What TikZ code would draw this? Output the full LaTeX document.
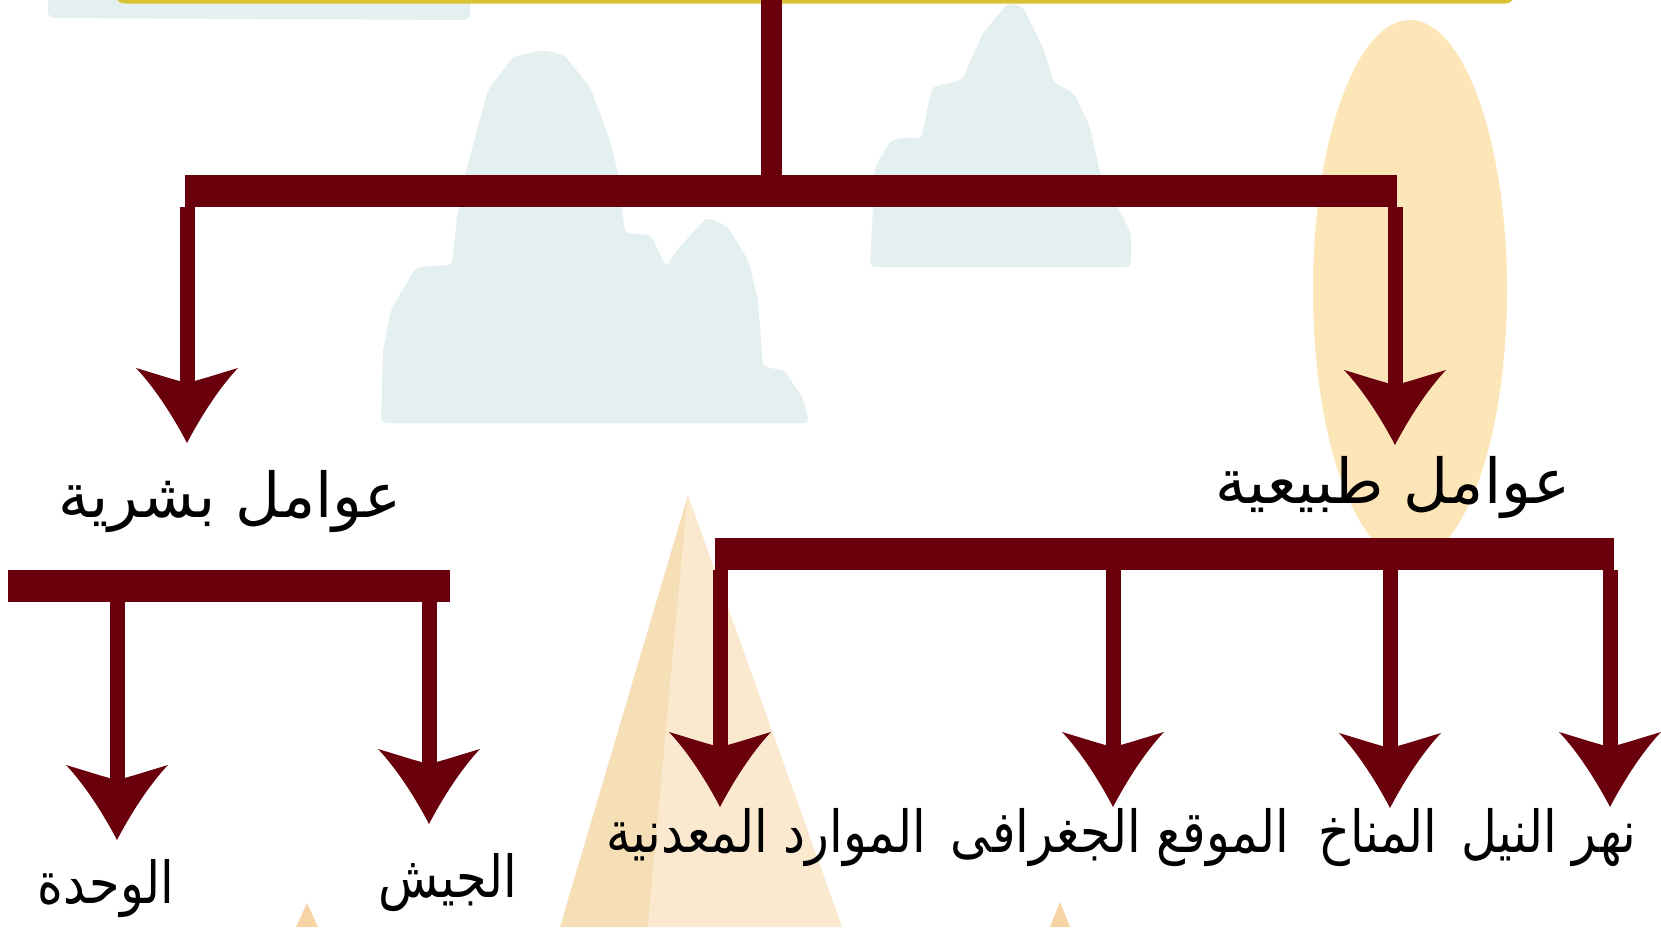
\documentclass[tikz,border=0pt]{standalone}
\usepackage{fontspec}
\newfontfamily\arabicfont[Script=Arabic]{DejaVu Sans}
\newfontfamily\arabicnarrow[Script=Arabic,FakeStretch=0.85]{DejaVu Sans}
\TeXXeTstate=1
\usetikzlibrary{arrows.meta}

\definecolor{wine}{RGB}{106,0,12}
\definecolor{mist}{RGB}{227,240,239}
\definecolor{sunglow}{RGB}{252,229,182}
\definecolor{sandL}{RGB}{246,222,182}
\definecolor{sandR}{RGB}{250,233,207}
\definecolor{sandS}{RGB}{247,212,164}
\definecolor{gold}{RGB}{216,194,50}

% curved barbed arrow head, 75pt long and 102pt wide
\pgfdeclarearrow{
  name = Barb,
  parameters = {barb},
  setup code = {
    \pgfarrowssettipend{0pt}
    \pgfarrowssetlineend{-50pt}
    \pgfarrowssetvisualbackend{-60pt}
    \pgfarrowssetbackend{-75pt}
    \pgfarrowshullpoint{0pt}{0pt}
    \pgfarrowsupperhullpoint{-75pt}{51pt}
  },
  drawing code = {
    \pgfpathmoveto{\pgfqpoint{0pt}{0pt}}
    \pgfpathcurveto{\pgfqpoint{-25pt}{13pt}}{\pgfqpoint{-55pt}{32pt}}{\pgfqpoint{-75pt}{51pt}}
    \pgfpathcurveto{\pgfqpoint{-70pt}{34pt}}{\pgfqpoint{-64pt}{16pt}}{\pgfqpoint{-60pt}{0pt}}
    \pgfpathcurveto{\pgfqpoint{-64pt}{-16pt}}{\pgfqpoint{-70pt}{-34pt}}{\pgfqpoint{-75pt}{-51pt}}
    \pgfpathcurveto{\pgfqpoint{-55pt}{-32pt}}{\pgfqpoint{-25pt}{-13pt}}{\pgfqpoint{0pt}{0pt}}
    \pgfpathclose
    \pgfusepathqfill
  }
}

\tikzset{
  bar/.style={fill=wine, inner sep=0pt, outer sep=0pt, minimum height=32pt},
  trunk/.style={draw=wine, line width=21pt},
  link/.style={draw=wine, line width=15pt, -{Barb}},
  heading/.style={anchor=base, inner sep=0pt, text=black,
    font=\arabicfont\fontsize{62}{74}\selectfont},
  leaf/.style={anchor=base, inner sep=0pt, text=black,
    font=\arabicnarrow\fontsize{58}{70}\selectfont},
}

\begin{document}
\begin{tikzpicture}[x=1pt, y=-1pt]
\useasboundingbox (0,0) rectangle (1661,927);
\clip (0,0) rectangle (1661,927);
\fill[white] (0,0) rectangle (1661,927);

% pale mountains in the background
\fill[mist, rounded corners=6pt] (48,-10) -- (48,18) -- (470,20) -- (470,-10) -- cycle;
\fill[mist, rounded corners=5pt]
  (381,423) -- (383,350) -- (391,310) -- (416,267) -- (452,265) -- (457,217)
  -- (467,167) -- (488,90) -- (513,57) -- (544,50) -- (564,55) -- (590,87)
  -- (610,140) -- (618,173) -- (625,233) -- (651,235) -- (666,267) -- (677,250)
  -- (707,217) -- (728,227) -- (748,260) -- (758,300) -- (763,367) -- (784,370)
  -- (804,400) -- (809,423) -- cycle;
\fill[mist, rounded corners=5pt]
  (870,267) -- (875,167) -- (891,140) -- (911,137) -- (921,140) -- (932,87)
  -- (962,80) -- (983,33) -- (1008,3) -- (1023,7) -- (1044,50) -- (1054,83)
  -- (1074,93) -- (1090,127) -- (1100,173) -- (1131,233) -- (1131,267) -- cycle;

% warm oval behind the right branch
\fill[sunglow] (1410,290) ellipse [x radius=97, y radius=270];

% pyramids
\fill[sandL] (688,495) -- (560,927) -- (648,927) -- cycle;
\fill[sandR] (688,495) -- (648,927) -- (842,927) -- cycle;
\fill[sandS] (307,903) -- (296,927) -- (318,927) -- cycle;
\fill[sandS] (1060,902) -- (1050,927) -- (1070,927) -- cycle;

% lower edge of the title frame
\draw[gold, line width=4pt, rounded corners=8pt] (117,-60) rectangle (1513,1.5);

% bars
\node[bar, minimum width=1212pt] (mainbar) at (791,191) {};
\node[bar, minimum width=442pt]  (humanbar) at (229,586) {};
\node[bar, minimum width=899pt]  (naturebar) at (1164.5,554) {};

% labels
\node[heading] (human)  at (230,517)  {\beginR عوامل بشرية\endR};
\node[heading] (nature) at (1393,503) {\beginR عوامل طبيعية\endR};
\node[leaf] (unity)    at (106,903)  {\beginR الوحدة\endR};
\node[leaf] (army)     at (448,897)  {\beginR الجيش\endR};
\node[leaf] (minerals) at (766,852)  {\beginR الموارد المعدنية\endR};
\node[leaf] (location) at (1120,852) {\beginR الموقع الجغرافى\endR};
\node[leaf] (climate)  at (1378,852) {\beginR المناخ\endR};
\node[leaf] (nile)     at (1549,852) {\beginR نهر النيل\endR};

% arrow tips
\coordinate (top) at (771,-2);
\coordinate (tHuman)    at (187,443);
\coordinate (tNature)   at (1395,445);
\coordinate (tUnity)    at (117,840);
\coordinate (tArmy)     at (429,824);
\coordinate (tMinerals) at (720,807);
\coordinate (tLocation) at (1113,807);
\coordinate (tClimate)  at (1390,808);
\coordinate (tNile)     at (1610,807);

% connectors
\draw[trunk] (top) -- (mainbar.north -| top);
\draw[link] (mainbar.south -| tHuman)  -- (tHuman);
\draw[link] (mainbar.south -| tNature) -- (tNature);
\draw[link] (humanbar.south -| tUnity) -- (tUnity);
\draw[link] (humanbar.south -| tArmy)  -- (tArmy);
\draw[link] (naturebar.south -| tMinerals) -- (tMinerals);
\draw[link] (naturebar.south -| tLocation) -- (tLocation);
\draw[link] (naturebar.south -| tClimate)  -- (tClimate);
\draw[link] (naturebar.south -| tNile)     -- (tNile);
\end{tikzpicture}
\end{document}
